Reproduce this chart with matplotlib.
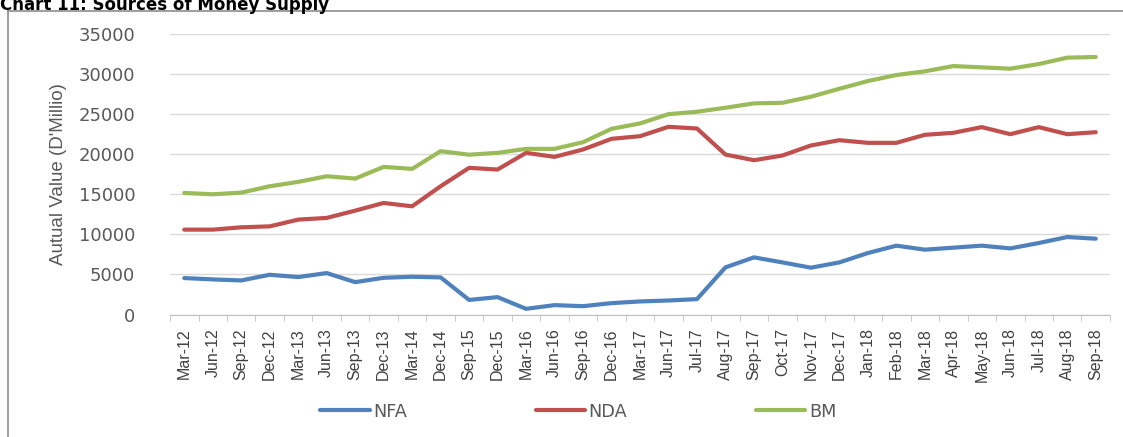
import matplotlib
matplotlib.use('Agg')
import matplotlib.pyplot as plt
from matplotlib.lines import Line2D

# periods on the x axis
periodes = ['Mar-12', 'Jun-12', 'Sep-12', 'Dec-12', 'Mar-13', 'Jun-13', 'Sep-13',
            'Dec-13', 'Mar-14', 'Dec-14', 'Sep-15', 'Dec-15', 'Mar-16', 'Jun-16',
            'Sep-16', 'Dec-16', 'Mar-17', 'Jun-17', 'Jul-17', 'Aug-17', 'Sep-17',
            'Oct-17', 'Nov-17', 'Dec-17', 'Jan-18', 'Feb-18', 'Mar-18', 'Apr-18',
            'May-18', 'Jun-18', 'Jul-18', 'Aug-18', 'Sep-18']

# values in D'Million
nfa = [4550, 4380, 4250, 4960, 4670, 5170, 4040, 4580, 4710, 4630, 1820,
       2170, 710, 1170, 1040, 1420, 1630, 1750, 1920, 5880, 7130,
       6500, 5840, 6500, 7670, 8590, 8090, 8340, 8590, 8250, 8920, 9670, 9460]
nda = [10590, 10590, 10880, 11000, 11840, 12050, 12960, 13920, 13500, 16000, 18300,
       18090, 20170, 19670, 20590, 21920, 22250, 23420, 23210, 19960, 19250,
       19840, 21090, 21750, 21420, 21420, 22420, 22670, 23380, 22500, 23380, 22500, 22750]
bm = [15170, 15000, 15210, 16000, 16550, 17250, 16960, 18420, 18170, 20380, 19940,
      20170, 20670, 20670, 21500, 23170, 23840, 25000, 25300, 25800, 26340,
      26420, 27170, 28170, 29130, 29880, 30340, 31000, 30840, 30670, 31250, 32050, 32130]

series = [('NFA', nfa, '#4F81BD'), ('NDA', nda, '#C0504D'), ('BM', bm, '#9BBB59')]

fig = plt.figure(figsize=(11.23, 4.37), dpi=100)
ax = fig.add_axes([0.1514, 0.2803, 0.8370, 0.6419])

x = list(range(len(periodes)))
for nom, valeurs, couleur in series:
    ax.plot(x, valeurs, color=couleur, lw=3, label=nom, solid_capstyle='round')

ax.set_xlim(-0.5, len(periodes) - 0.5)
ax.set_ylim(0, 35000)
ax.set_yticks(range(0, 35001, 5000))
ax.yaxis.grid(True, color='#D9D9D9', lw=1)
ax.set_axisbelow(True)

ax.set_xticks(x)
ax.set_xticklabels(periodes, rotation=90, fontsize=11.5, family=['Liberation Sans', 'DejaVu Sans'],
                   color='#404040')
ax.set_xticks([i + 0.5 for i in range(-1, len(periodes))], minor=True)
ax.tick_params(axis='x', which='major', length=0, pad=10)
ax.tick_params(axis='x', which='minor', length=4, color='#BFBFBF', direction='out')
ax.tick_params(axis='y', length=0, pad=25, labelsize=13, labelcolor='#595959')

for s in ['top', 'right', 'left']:
    ax.spines[s].set_visible(False)
ax.spines['bottom'].set_color('#BFBFBF')

ax.set_ylabel("Autual Value (D'Millio)", fontsize=13.5, color='#595959',
              family=['Liberation Sans', 'DejaVu Sans'], labelpad=8)

fig.legend(loc='center', bbox_to_anchor=(0.515, 0.058), ncol=3, frameon=False,
           fontsize=12.7, handlelength=2.8, handletextpad=0.2, columnspacing=7.3,
           labelcolor='#595959')

fig.text(0.0, 0.977, 'Chart 11: Sources of Money Supply', fontsize=12, fontweight='bold',
         va='baseline', ha='left')

# border of the chart box
fig.add_artist(Line2D([0.0071, 0.0071], [0, 0.9748], color='#8C8C8C', lw=1.2))
fig.add_artist(Line2D([0.0071, 1.0], [0.9748, 0.9748], color='#8C8C8C', lw=1.2))

plt.savefig('out.png', dpi=100)
